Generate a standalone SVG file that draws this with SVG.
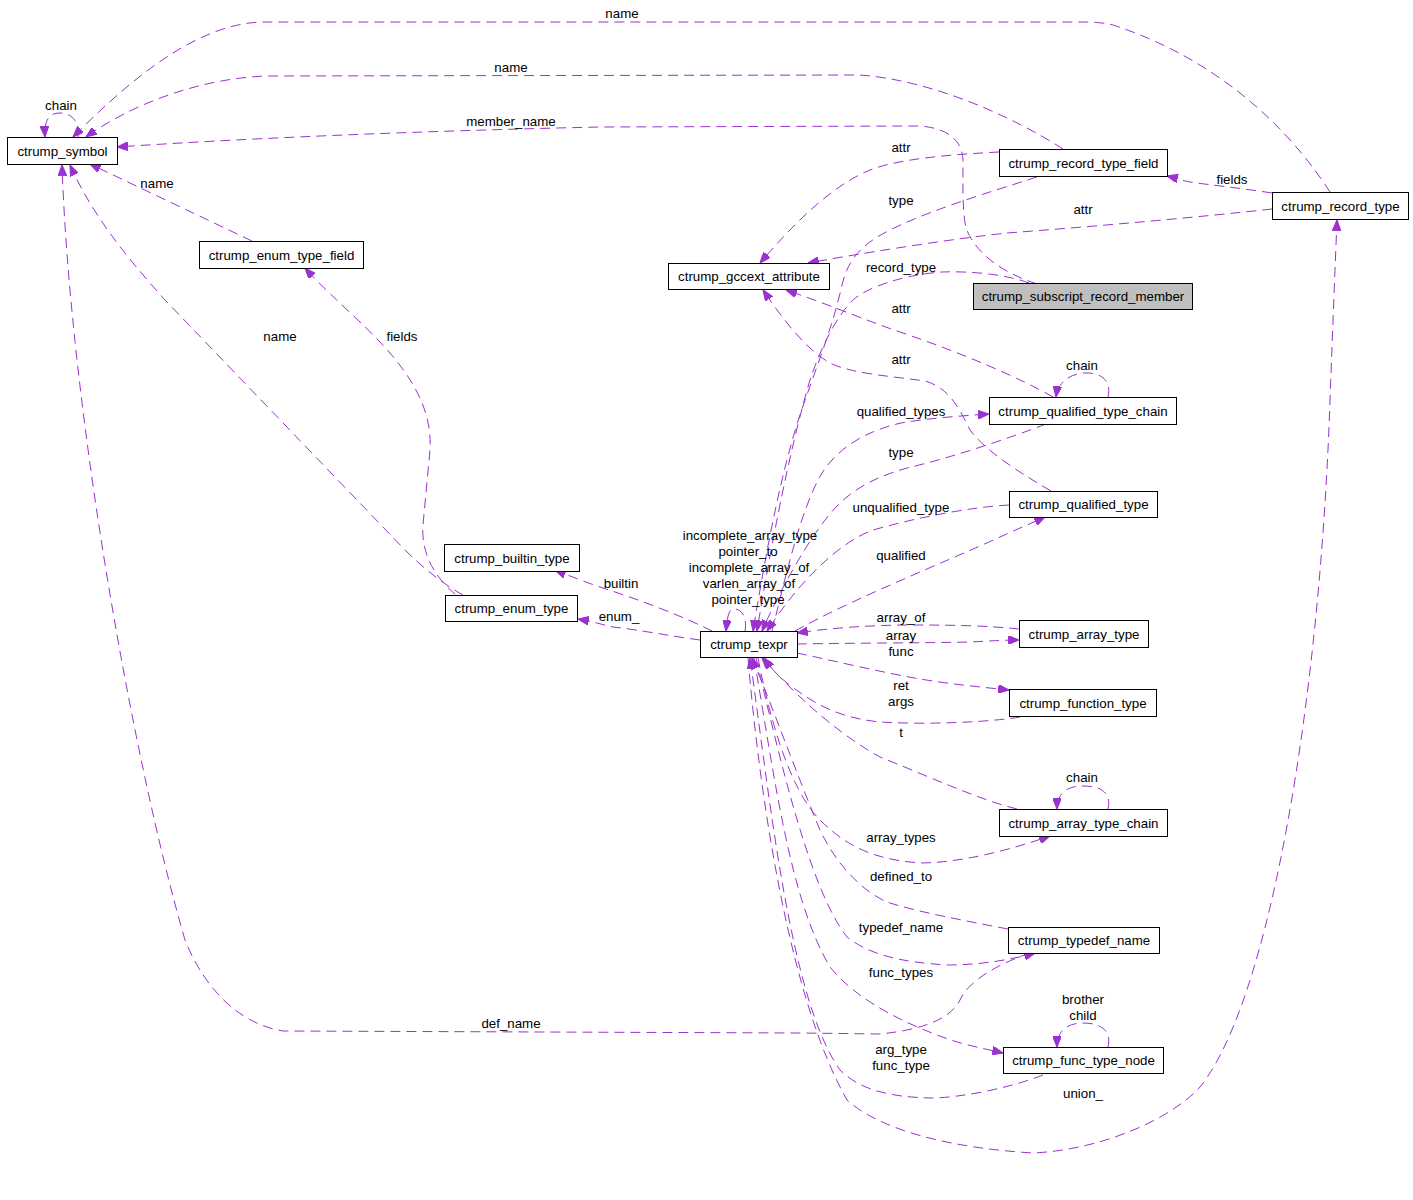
<svg xmlns="http://www.w3.org/2000/svg" width="1413" height="1200" viewBox="0 0 1413 1200">
<style>
text{font-family:"Liberation Sans",Arial,Helvetica,sans-serif;font-size:13.3px;text-anchor:middle;fill:#000}
.n rect{fill:#fff;stroke:#000;stroke-width:1}
.n.hl rect{fill:#bfbfbf}
.e path{fill:none;stroke:#9a32cd;stroke-width:1;stroke-dasharray:10,6;marker-end:url(#ah)}
</style>
<defs>
<marker id="ah" viewBox="0 0 10 8" refX="10" refY="4" markerWidth="11" markerHeight="8.5" markerUnits="userSpaceOnUse" orient="auto">
<path d="M0,0 L10,4 L0,8 z" fill="#9a32cd" stroke="#9a32cd" stroke-width="1"/>
</marker>
</defs>
<rect width="1413" height="1200" fill="#fff"/>
<g id="connectors" class="e">
<path d="M78,137 C80,121 71,113 60,113 C50,113 44,119 45,137"/>
<path d="M1330,192 C1290,130 1220,60 1113,25 C1100,22 1090,22 1080,22 L265,22 C195,22 125,85 73,137"/>
<path d="M1063,149 C1010,115 930,80 860,75 L267,76 C200,78 130,105 86,137"/>
<path d="M1037,284 C1000,272 975,252 966,228 C962,210 963,180 963,160 C962,138 945,128 920,126 L600,127 C420,131 250,138 117,147"/>
<path d="M252,241 L90,164"/>
<path d="M463,595 C445,585 425,570 405,550 L165,300 C120,250 90,210 70,165"/>
<path d="M455,594 C432,575 421,550 423,525 L430,450 C433,400 400,360 360,322 C340,303 320,285 305,268"/>
<path d="M999,152 C960,154 900,158 870,170 C830,186 790,228 760,263"/>
<path d="M1272,209 C1200,217 1100,226 1007,233 C960,238 880,250 808,263"/>
<path d="M1272,193 C1240,188 1210,185 1190,182 C1180,180 1175,178 1167,176"/>
<path d="M1037,177 C990,192 930,210 890,230 C860,245 848,260 842,285 C832,330 815,370 800,415 C782,470 768,540 753,631"/>
<path d="M1029,283 C1005,274 970,271 942,272 C910,274 870,285 853,300 C835,318 820,350 810,380 C795,430 775,520 757,631"/>
<path d="M1046,424 C1010,438 950,458 911,467 C880,475 855,487 836,507 C810,535 780,590 762,631"/>
<path d="M1009,505 C970,507 915,518 873,530 C840,542 800,580 767,631"/>
<path d="M772,631 C785,580 800,510 822,473 C840,445 870,430 901,423 C930,418 960,416 989,414"/>
<path d="M795,631 C850,600 950,560 1000,537 C1015,530 1030,524 1045,517"/>
<path d="M1051,491 C1015,470 985,450 970,430 C960,410 950,388 925,381 C890,376 855,374 832,364 C805,350 780,315 763,290"/>
<path d="M1053,397 C1020,378 960,352 894,330 C860,318 830,305 786,290"/>
<path d="M1108,397 C1112,380 1100,372 1084,373 C1070,374 1058,382 1056,397"/>
<path d="M745,631 C748,614 738,606 731,610 C728,613 727,620 726,631"/>
<path d="M1019,629 C990,626 960,625 913,625 C870,625 830,628 797,633"/>
<path d="M797,644 C850,643 930,643 970,642 C990,641 1005,640 1019,640"/>
<path d="M797,653 C830,660 880,672 920,679 C950,684 980,687 1009,690"/>
<path d="M1020,717 C990,722 930,725 880,722 C840,718 815,705 787,683 C778,676 771,668 764,658"/>
<path d="M1017,809 C980,800 930,777 880,757 C840,735 800,700 762,658"/>
<path d="M758,658 C770,720 790,790 820,820 C850,850 880,860 920,863 C960,863 1010,850 1050,836"/>
<path d="M1008,929 C960,920 910,910 887,902 C860,890 835,862 820,830 C795,770 770,700 752,658"/>
<path d="M756,658 C780,760 810,890 847,937 C870,955 900,962 947,965 C980,965 1010,960 1035,953"/>
<path d="M754,658 C775,780 790,900 830,967 C860,1005 920,1030 957,1042 C975,1047 990,1050 1003,1053"/>
<path d="M1043,1075 C1010,1088 960,1098 930,1098 C890,1097 860,1090 840,1070 C790,1000 770,800 750,658"/>
<path d="M748,658 C760,800 790,1000 847,1100 C880,1130 950,1148 1033,1153 C1100,1150 1170,1120 1200,1087 C1270,1000 1320,700 1330,400 C1333,320 1335,270 1337,220"/>
<path d="M1030,953 C995,965 968,982 960,1000 C950,1020 920,1030 880,1034 L800,1033 L283,1031 C240,1024 205,990 185,940 C130,750 70,400 62,165"/>
<path d="M712,631 C680,615 640,600 600,587 C585,582 570,576 555,570"/>
<path d="M700,640 C670,636 640,630 613,627 C600,624 590,621 578,619"/>
<path d="M1108,809 C1112,792 1100,786 1083,786 C1065,786 1057,795 1057,809"/>
<path d="M1108,1047 C1112,1030 1100,1023 1083,1023 C1066,1023 1057,1032 1057,1047"/>
</g>
<g id="edge-labels">
<text x="622" y="17.5">name</text>
<text x="511" y="71.5">name</text>
<text x="61" y="109.5">chain</text>
<text x="511" y="125.5">member_name</text>
<text x="901" y="151.5">attr</text>
<text x="157" y="187.5">name</text>
<text x="1232" y="183.5">fields</text>
<text x="901" y="204.5">type</text>
<text x="1083" y="213.5">attr</text>
<text x="901" y="271.5">record_type</text>
<text x="901" y="312.5">attr</text>
<text x="280" y="340.5">name</text>
<text x="402" y="340.5">fields</text>
<text x="901" y="363.5">attr</text>
<text x="1082" y="369.5">chain</text>
<text x="901" y="415.5">qualified_types</text>
<text x="901" y="456.5">type</text>
<text x="901" y="511.5">unqualified_type</text>
<text x="750" y="539.5">incomplete_array_type</text>
<text x="748" y="555.5">pointer_to</text>
<text x="749" y="571.5">incomplete_array_of</text>
<text x="749" y="587.5">varlen_array_of</text>
<text x="748" y="603.5">pointer_type</text>
<text x="901" y="559.5">qualified</text>
<text x="621" y="587.5">builtin</text>
<text x="619" y="620.5">enum_</text>
<text x="901" y="621.5">array_of</text>
<text x="901" y="639.5">array</text>
<text x="901" y="655.5">func</text>
<text x="901" y="689.5">ret</text>
<text x="901" y="705.5">args</text>
<text x="901" y="736.5">t</text>
<text x="1082" y="781.5">chain</text>
<text x="901" y="841.5">array_types</text>
<text x="901" y="880.5">defined_to</text>
<text x="901" y="931.5">typedef_name</text>
<text x="901" y="976.5">func_types</text>
<text x="1083" y="1003.5">brother</text>
<text x="1083" y="1019.5">child</text>
<text x="511" y="1027.5">def_name</text>
<text x="901" y="1053.5">arg_type</text>
<text x="901" y="1069.5">func_type</text>
<text x="1083" y="1097.5">union_</text>
</g>
<g id="node-symbol" class="n"><rect x="7.5" y="137.5" width="110" height="27"/><text x="62.5" y="155.5">ctrump_symbol</text></g>
<g id="node-enum_type_field" class="n"><rect x="199.5" y="241.5" width="164" height="27"/><text x="281.5" y="259.5">ctrump_enum_type_field</text></g>
<g id="node-gccext_attribute" class="n"><rect x="668.5" y="263.5" width="161" height="26"/><text x="749" y="281">ctrump_gccext_attribute</text></g>
<g id="node-record_type_field" class="n"><rect x="999.5" y="149.5" width="168" height="27"/><text x="1083.5" y="167.5">ctrump_record_type_field</text></g>
<g id="node-record_type" class="n"><rect x="1272.5" y="192.5" width="136" height="27"/><text x="1340.5" y="210.5">ctrump_record_type</text></g>
<g id="node-subscript_record_member" class="n hl"><rect x="973.5" y="283.5" width="219" height="26"/><text x="1083" y="301">ctrump_subscript_record_member</text></g>
<g id="node-qualified_type_chain" class="n"><rect x="989.5" y="397.5" width="187" height="27"/><text x="1083" y="415.5">ctrump_qualified_type_chain</text></g>
<g id="node-qualified_type" class="n"><rect x="1009.5" y="491.5" width="148" height="26"/><text x="1083.5" y="509">ctrump_qualified_type</text></g>
<g id="node-builtin_type" class="n"><rect x="444.5" y="544.5" width="135" height="27"/><text x="512" y="562.5">ctrump_builtin_type</text></g>
<g id="node-enum_type" class="n"><rect x="445.5" y="595.5" width="132" height="26"/><text x="511.5" y="613">ctrump_enum_type</text></g>
<g id="node-texpr" class="n"><rect x="700.5" y="631.5" width="97" height="26"/><text x="749" y="649">ctrump_texpr</text></g>
<g id="node-array_type" class="n"><rect x="1019.5" y="620.5" width="129" height="27"/><text x="1084" y="638.5">ctrump_array_type</text></g>
<g id="node-function_type" class="n"><rect x="1009.5" y="689.5" width="147" height="27"/><text x="1083" y="707.5">ctrump_function_type</text></g>
<g id="node-array_type_chain" class="n"><rect x="999.5" y="809.5" width="168" height="27"/><text x="1083.5" y="827.5">ctrump_array_type_chain</text></g>
<g id="node-typedef_name" class="n"><rect x="1008.5" y="927.5" width="151" height="26"/><text x="1084" y="945">ctrump_typedef_name</text></g>
<g id="node-func_type_node" class="n"><rect x="1003.5" y="1047.5" width="160" height="26"/><text x="1083.5" y="1065">ctrump_func_type_node</text></g>
</svg>
